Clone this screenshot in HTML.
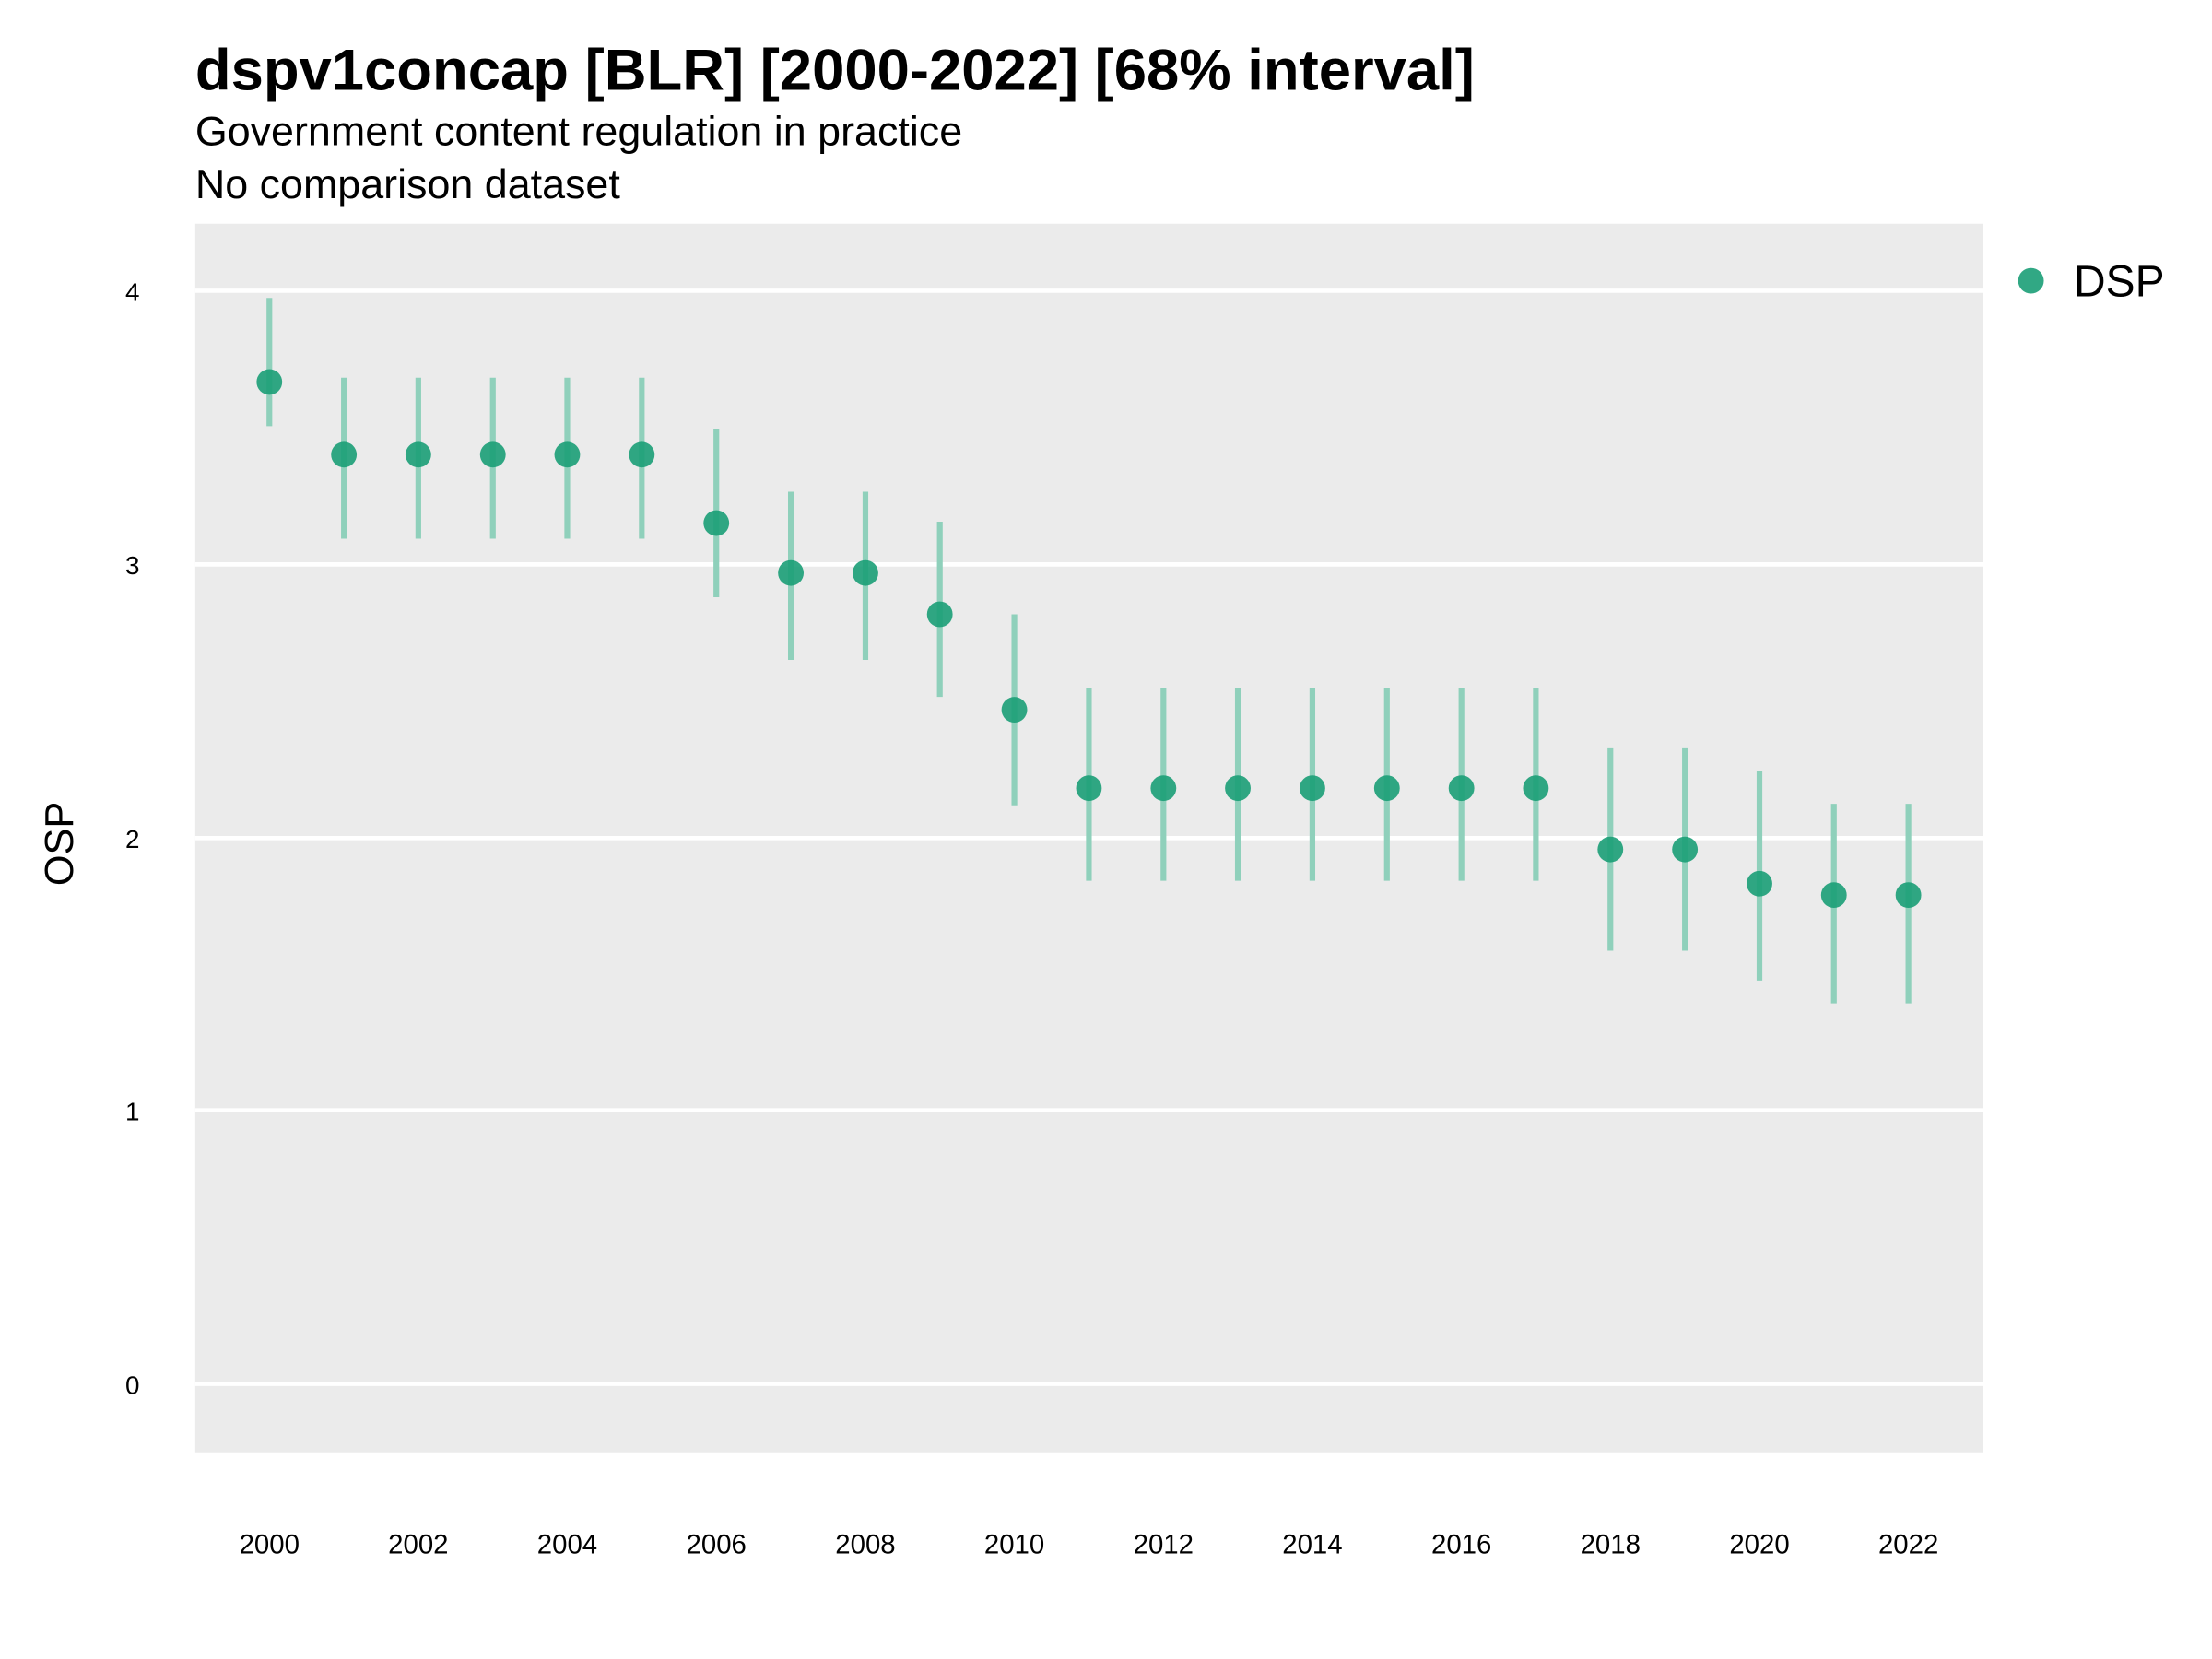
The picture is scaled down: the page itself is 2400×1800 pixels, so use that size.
<!DOCTYPE html>
<html><head><meta charset="utf-8"><style>html,body{margin:0;padding:0;background:#fff}svg{display:block}</style></head>
<body>
<svg width="2400" height="1800" viewBox="0 0 1552 1164" preserveAspectRatio="none" xmlns="http://www.w3.org/2000/svg" font-family="Liberation Sans, Arial, sans-serif">
<rect width="1552" height="1164" fill="#fff"/>
<text x="137" y="63" font-size="41" font-weight="bold">dspv1concap [BLR] [2000-2022] [68% interval]</text>
<text x="137" y="102" font-size="29">Government content regulation in practice</text>
<text x="137" y="139" font-size="29">No comparison dataset</text>
<rect x="137" y="157" width="1254" height="862" fill="#ebebeb"/>
<g stroke="#fff" stroke-width="3">
<line x1="137" x2="1391" y1="204" y2="204"/><line x1="137" x2="1391" y1="396" y2="396"/><line x1="137" x2="1391" y1="588" y2="588"/><line x1="137" x2="1391" y1="779" y2="779"/><line x1="137" x2="1391" y1="971" y2="971"/>
</g>
<g font-size="18" text-anchor="end"><text x="98" y="211">4</text><text x="98" y="403">3</text><text x="98" y="595">2</text><text x="98" y="786">1</text><text x="98" y="978">0</text></g>
<text transform="translate(51,592) rotate(-90)" font-size="28" text-anchor="middle">OSP</text>
<g font-size="19" text-anchor="middle">
<text x="189" y="1090">2000</text><text x="293.5" y="1090">2002</text><text x="398" y="1090">2004</text><text x="502.6" y="1090">2006</text><text x="607.2" y="1090">2008</text><text x="711.7" y="1090">2010</text><text x="816.3" y="1090">2012</text><text x="920.8" y="1090">2014</text><text x="1025.4" y="1090">2016</text><text x="1129.9" y="1090">2018</text><text x="1234.5" y="1090">2020</text><text x="1339" y="1090">2022</text>
</g>
<g stroke="#8fd0bb" stroke-width="4">
<line x1="189" x2="189" y1="209" y2="299"/>
<line x1="241.3" x2="241.3" y1="265" y2="378"/>
<line x1="293.5" x2="293.5" y1="265" y2="378"/>
<line x1="345.8" x2="345.8" y1="265" y2="378"/>
<line x1="398" x2="398" y1="265" y2="378"/>
<line x1="450.3" x2="450.3" y1="265" y2="378"/>
<line x1="502.6" x2="502.6" y1="301" y2="419"/>
<line x1="554.9" x2="554.9" y1="345" y2="463"/>
<line x1="607.2" x2="607.2" y1="345" y2="463"/>
<line x1="659.4" x2="659.4" y1="366" y2="489"/>
<line x1="711.7" x2="711.7" y1="431" y2="565"/>
<line x1="764" x2="764" y1="483" y2="618"/>
<line x1="816.3" x2="816.3" y1="483" y2="618"/>
<line x1="868.5" x2="868.5" y1="483" y2="618"/>
<line x1="920.8" x2="920.8" y1="483" y2="618"/>
<line x1="973.1" x2="973.1" y1="483" y2="618"/>
<line x1="1025.4" x2="1025.4" y1="483" y2="618"/>
<line x1="1077.6" x2="1077.6" y1="483" y2="618"/>
<line x1="1129.9" x2="1129.9" y1="525" y2="667"/>
<line x1="1182.2" x2="1182.2" y1="525" y2="667"/>
<line x1="1234.5" x2="1234.5" y1="541" y2="688"/>
<line x1="1286.7" x2="1286.7" y1="564" y2="704"/>
<line x1="1339" x2="1339" y1="564" y2="704"/>
</g>
<g fill="#1b9e77" fill-opacity="0.9">
<circle cx="189" cy="268" r="9"/>
<circle cx="241.3" cy="319" r="9"/>
<circle cx="293.5" cy="319" r="9"/>
<circle cx="345.8" cy="319" r="9"/>
<circle cx="398" cy="319" r="9"/>
<circle cx="450.3" cy="319" r="9"/>
<circle cx="502.6" cy="367" r="9"/>
<circle cx="554.9" cy="402" r="9"/>
<circle cx="607.2" cy="402" r="9"/>
<circle cx="659.4" cy="431" r="9"/>
<circle cx="711.7" cy="498" r="9"/>
<circle cx="764" cy="553" r="9"/>
<circle cx="816.3" cy="553" r="9"/>
<circle cx="868.5" cy="553" r="9"/>
<circle cx="920.8" cy="553" r="9"/>
<circle cx="973.1" cy="553" r="9"/>
<circle cx="1025.4" cy="553" r="9"/>
<circle cx="1077.6" cy="553" r="9"/>
<circle cx="1129.9" cy="596" r="9"/>
<circle cx="1182.2" cy="596" r="9"/>
<circle cx="1234.5" cy="620" r="9"/>
<circle cx="1286.7" cy="628" r="9"/>
<circle cx="1339" cy="628" r="9"/>
<circle cx="1425" cy="197" r="9"/>
</g>
<text x="1455" y="208" font-size="31">DSP</text>
</svg>
</body></html>
